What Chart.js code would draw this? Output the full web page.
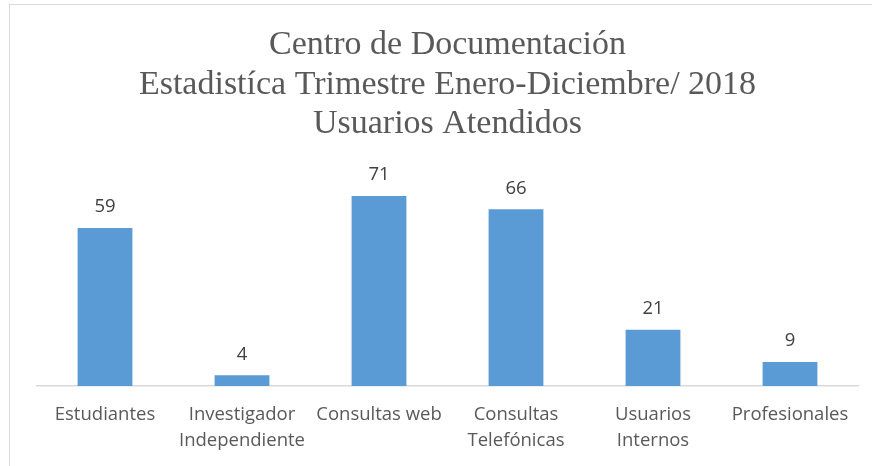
<!DOCTYPE html>
<html>
<head>
<meta charset="utf-8">
<script src="https://cdn.jsdelivr.net/npm/chart.js@4"></script>
<style>
  html, body { margin: 0; padding: 0; background: #fff; overflow: hidden; }
  #wrap { position: relative; width: 872px; height: 466px; }
  #frame { position: absolute; left: 9px; top: 4px; width: 900px; height: 500px; border: 1px solid #d9d9d9; }
  canvas { position: absolute; left: 0; top: 0; }
</style>
</head>
<body>
<div id="wrap">
  <div id="frame"></div>
  <canvas id="chart" width="872" height="466"></canvas>
</div>
<script>
// Chart data
const titleLines = [
  'Centro de Documentación',
  'Estadistíca Trimestre Enero-Diciembre/ 2018',
  'Usuarios Atendidos'
];
const categories = [
  'Estudiantes',
  ['Investigador', 'Independiente'],
  'Consultas web',
  ['Consultas', 'Telefónicas'],
  ['Usuarios', 'Internos'],
  'Profesionales'
];
const usuarios = [59, 4, 71, 66, 21, 9];

const labelFont = '"Open Sans", "Noto Sans", sans-serif';

// Value labels above each bar
const valueLabels = {
  id: 'valueLabels',
  afterDatasetsDraw(chart) {
    const ctx = chart.ctx;
    const meta = chart.getDatasetMeta(0);
    ctx.save();
    ctx.font = '18.5px ' + labelFont;
    ctx.fillStyle = '#404040';
    ctx.textAlign = 'center';
    ctx.textBaseline = 'middle';
    meta.data.forEach((bar, i) => {
      ctx.fillText(String(usuarios[i]), bar.x, bar.y - 21);
    });
    ctx.restore();
  }
};

const ctx = document.getElementById('chart').getContext('2d');
new Chart(ctx, {
  type: 'bar',
  data: {
    labels: categories,
    datasets: [{
      data: usuarios,
      backgroundColor: '#5b9bd5',
      borderWidth: 0,
      categoryPercentage: 1,
      barPercentage: 0.4
    }]
  },
  options: {
    responsive: false,
    animation: false,
    layout: {
      padding: { left: 36.5, right: 13.5, top: 0, bottom: 0 }
    },
    plugins: {
      legend: { display: false },
      tooltip: { enabled: false },
      title: {
        display: true,
        text: titleLines,
        color: '#595959',
        font: { family: '"Liberation Serif", "DejaVu Serif", serif', size: 34, weight: 'normal', lineHeight: 1.15 },
        padding: { top: 26, bottom: 28.5 }
      }
    },
    scales: {
      y: {
        display: false,
        min: 0,
        max: 80
      },
      x: {
        grid: { display: false, drawTicks: false },
        border: { display: true, color: '#d9d9d9', width: 1.5 },
        ticks: {
          color: '#595959',
          padding: 16,
          maxRotation: 0,
          autoSkip: false,
          font: { family: labelFont, size: 18.5, lineHeight: 1.4 }
        },
        afterFit(scale) {
          scale.height = 80;
        }
      }
    }
  },
  plugins: [valueLabels]
});
</script>
</body>
</html>
